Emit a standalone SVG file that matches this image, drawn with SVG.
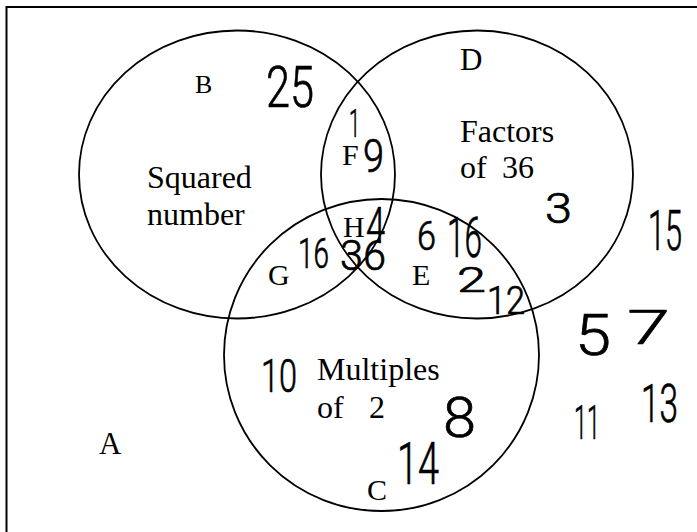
<svg xmlns="http://www.w3.org/2000/svg" width="697" height="532" viewBox="0 0 697 532">
<style>
.set{fill:none;stroke:#000;stroke-width:1.8}
.frame{fill:none;stroke:#000;stroke-width:2}
.lbl{font-family:"Liberation Serif","Times New Roman",serif;font-size:31px;fill:#000}
.body{font-family:"Liberation Serif","Times New Roman",serif;font-size:32px;fill:#000}
.hw{font-family:Roboto,"Liberation Sans",Arial,sans-serif;font-weight:300;fill:#000;stroke:#000;stroke-width:0.7}
</style>
<rect width="697" height="532" fill="#fff"/>
<g id="frame">
<path class="frame" d="M6.5,532 V7 H697"/>
</g>
<g id="set-B">
<ellipse class="set" cx="237" cy="174.5" rx="158" ry="144"/>
<text class="lbl" x="195" y="93" style="font-size:26px">B</text>
<text class="body" x="147" y="188">Squared</text>
<text class="body" x="147" y="225">number</text>
</g>
<g id="set-D">
<ellipse class="set" cx="477" cy="174.5" rx="156" ry="144"/>
<text class="lbl" x="460" y="70">D</text>
<text class="body" x="460" y="142">Factors</text>
<text class="body" y="178"><tspan x="460">of</tspan><tspan x="502">36</tspan></text>
</g>
<g id="set-C">
<ellipse class="set" cx="381.5" cy="355" rx="157.5" ry="156"/>
<text class="lbl" x="367" y="500" style="font-size:30px">C</text>
<text class="body" x="317" y="380">Multiples</text>
<text class="body" y="418"><tspan x="317">of</tspan><tspan x="369">2</tspan></text>
</g>
<g id="regions">
<text class="lbl" x="99" y="454">A</text>
<text class="lbl" x="342" y="165" style="font-size:30px">F</text>
<text class="lbl" x="343" y="237" style="font-size:30px">H</text>
<text class="lbl" x="268" y="285" style="font-size:30px">G</text>
<text class="lbl" x="412" y="285" style="font-size:30px">E</text>
</g>
<g id="numbers">
<text class="hw" x="266" y="107" font-size="58" textLength="48" lengthAdjust="spacingAndGlyphs">25</text>
<text class="hw" x="349" y="137" font-size="38" textLength="11" lengthAdjust="spacingAndGlyphs">1</text>
<text class="hw" x="363" y="172" font-size="46" textLength="21" lengthAdjust="spacingAndGlyphs">9</text>
<text class="hw" x="366" y="243" font-size="50" textLength="19" lengthAdjust="spacingAndGlyphs">4</text>
<text class="hw" x="298" y="268" font-size="42" textLength="31" lengthAdjust="spacingAndGlyphs">16</text>
<text class="hw" x="340" y="270" font-size="42" textLength="46" lengthAdjust="spacingAndGlyphs">36</text>
<text class="hw" x="417" y="250" font-size="40" textLength="19" lengthAdjust="spacingAndGlyphs">6</text>
<text class="hw" x="447" y="257" font-size="55" textLength="35" lengthAdjust="spacingAndGlyphs">16</text>
<text class="hw" x="457" y="292" font-size="35" textLength="29" lengthAdjust="spacingAndGlyphs">2</text>
<text class="hw" x="487" y="314" font-size="38" textLength="38" lengthAdjust="spacingAndGlyphs">12</text>
<text class="hw" x="545" y="223" font-size="42" textLength="27" lengthAdjust="spacingAndGlyphs">3</text>
<text class="hw" x="648" y="250" font-size="55" textLength="34" lengthAdjust="spacingAndGlyphs">15</text>
<text class="hw" x="575" y="355" font-size="57" textLength="36" lengthAdjust="spacingAndGlyphs">5</text>
<text class="hw" x="627" y="344" font-size="49" textLength="43" lengthAdjust="spacingAndGlyphs">7</text>
<text class="hw" x="574" y="439" font-size="49" textLength="26" lengthAdjust="spacingAndGlyphs">11</text>
<text class="hw" x="641" y="422" font-size="53" textLength="37" lengthAdjust="spacingAndGlyphs">13</text>
<text class="hw" x="443" y="437" font-size="56" textLength="33" lengthAdjust="spacingAndGlyphs">8</text>
<text class="hw" x="397" y="484" font-size="59" textLength="42" lengthAdjust="spacingAndGlyphs">14</text>
<text class="hw" x="261" y="392" font-size="46" textLength="36" lengthAdjust="spacingAndGlyphs">10</text>
</g>
</svg>
